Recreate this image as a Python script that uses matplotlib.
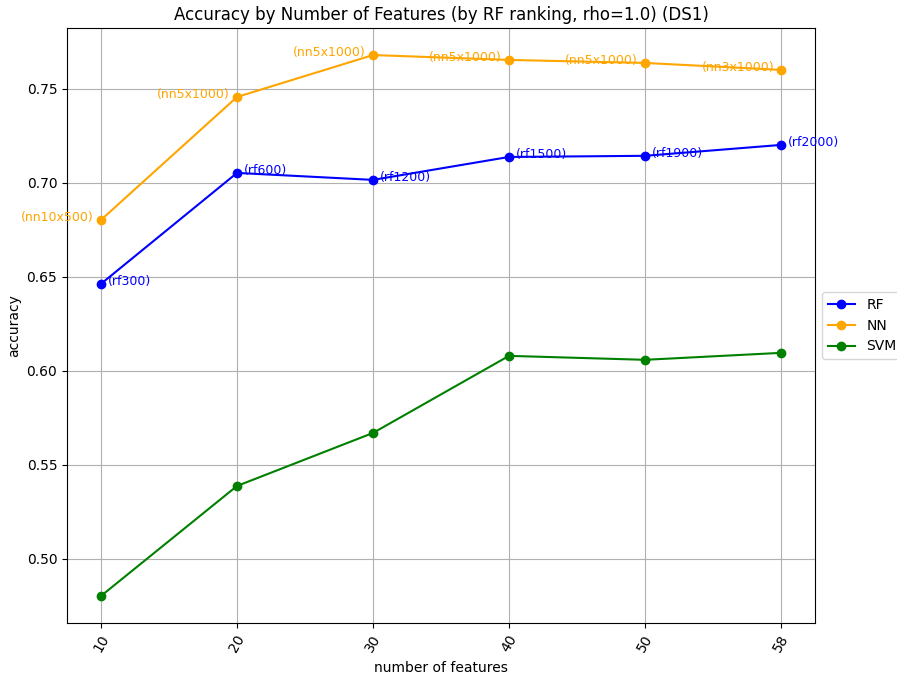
import numpy as np
import matplotlib
matplotlib.use('Agg')
import matplotlib.pyplot as plt

# datos
n_features = ['10', '20', '30', '40', '50', '58']
acc_rf  = [0.6463, 0.7053, 0.7016, 0.7138, 0.7144, 0.7202]
acc_nn  = [0.6803, 0.7457, 0.7680, 0.7654, 0.7638, 0.7601]
acc_svm = [0.4803, 0.5388, 0.5670, 0.6080, 0.6059, 0.6096]
lab_rf = ['rf300', 'rf600', 'rf1200', 'rf1500', 'rf1900', 'rf2000']
lab_nn = ['nn10x500', 'nn5x1000', 'nn5x1000', 'nn5x1000', 'nn5x1000', 'nn3x1000']

fig = plt.figure(figsize=(8.97, 6.8), dpi=100)
ax = fig.add_axes([67/897, 1 - 623/680, (815-67)/897, (623-28)/680])

x = np.arange(len(n_features))
ax.plot(x, acc_rf, 'o-', color='blue', label='RF')
ax.plot(x, acc_nn, 'o-', color='orange', label='NN')
ax.plot(x, acc_svm, 'o-', color='green', label='SVM')

for i in range(len(x)):
    ax.annotate(f'({lab_rf[i]})', (x[i], acc_rf[i]), xytext=(5, 2),
                textcoords='offset points', ha='left', va='center',
                color='blue', fontsize=9)
    ax.annotate(f'({lab_nn[i]})', (x[i], acc_nn[i]), xytext=(-5, 2),
                textcoords='offset points', ha='right', va='center',
                color='orange', fontsize=9)

ax.set_xticks(x)
ax.set_xticklabels(n_features, rotation=60)
ax.set_xlabel('number of features')
ax.set_ylabel('accuracy')
ax.set_title('Accuracy by Number of Features (by RF ranking, rho=1.0) (DS1)')
ax.grid(True)
ax.legend(loc='center left', bbox_to_anchor=(1.0, 0.5))

fig.savefig('out.png', dpi=100)
